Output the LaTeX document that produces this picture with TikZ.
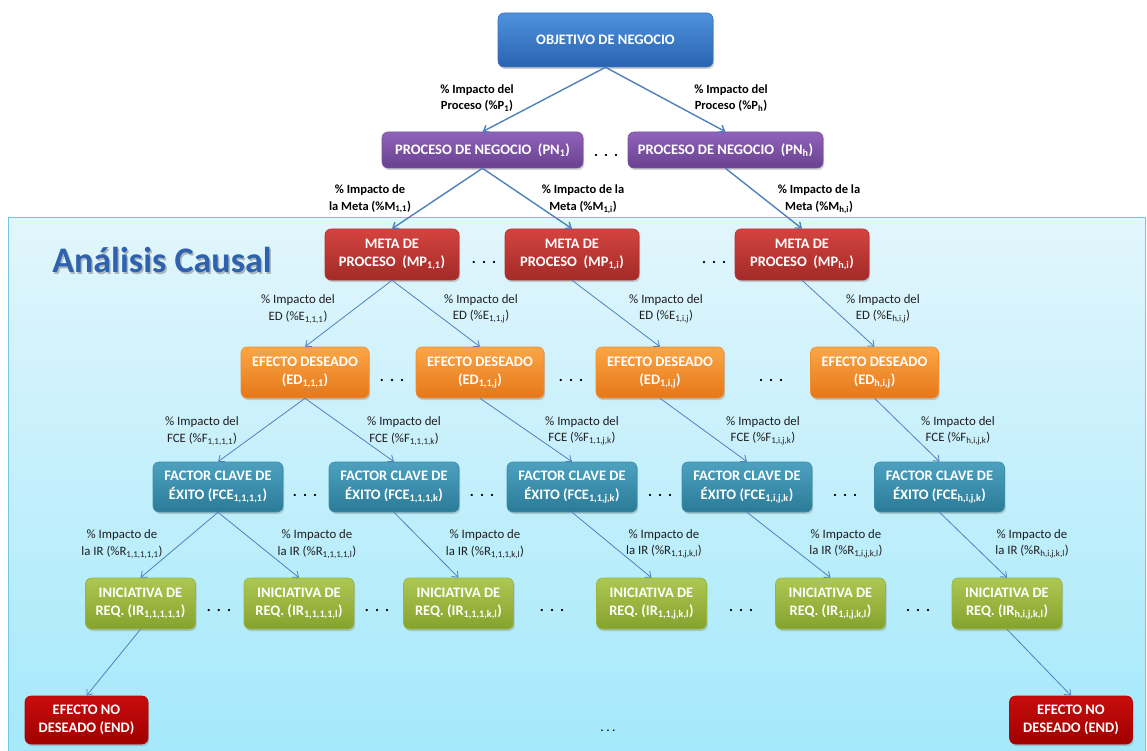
\documentclass[tikz,border=0pt]{standalone}
\usepackage{fontspec}
\setmainfont{Carlito}
\usetikzlibrary{shadows,arrows.meta}

\definecolor{objTop}{HTML}{4F92DC}
\definecolor{objBot}{HTML}{2A63B0}
\definecolor{objEdge}{HTML}{3A74BA}
\definecolor{pnTop}{HTML}{8F63BA}
\definecolor{pnBot}{HTML}{6A4190}
\definecolor{pnEdge}{HTML}{7A52A2}
\definecolor{mpTop}{HTML}{D4443F}
\definecolor{mpBot}{HTML}{A22A28}
\definecolor{mpEdge}{HTML}{B8332F}
\definecolor{edTop}{HTML}{FBA645}
\definecolor{edBot}{HTML}{E6771A}
\definecolor{edEdge}{HTML}{F08E2E}
\definecolor{fceTop}{HTML}{4DA1BF}
\definecolor{fceBot}{HTML}{2A7B98}
\definecolor{fceEdge}{HTML}{3A8EAC}
\definecolor{irTop}{HTML}{ADC852}
\definecolor{irBot}{HTML}{85A22C}
\definecolor{irEdge}{HTML}{98B53E}
\definecolor{endTop}{HTML}{C80C0C}
\definecolor{endBot}{HTML}{A00000}
\definecolor{endEdge}{HTML}{B00606}
\definecolor{panelTop}{HTML}{E2F6FC}
\definecolor{panelBot}{HTML}{A2E8FB}
\definecolor{panelEdge}{HTML}{72C6E8}
\definecolor{connBlue}{HTML}{4F81BD}
\definecolor{titleBlue}{HTML}{2F62AE}
\definecolor{lblText}{HTML}{1E1E1E}

\tikzset{
  box/.style={rounded corners=6pt, inner sep=0pt, align=center, text=white,
    font=\fontsize{14.5}{18.5}\selectfont\bfseries, line width=0.6pt,
    drop shadow={opacity=0.35, shadow xshift=1.2pt, shadow yshift=-2pt}},
  objbox/.style={box, top color=objTop, bottom color=objBot, draw=objEdge,
    minimum width=215pt, minimum height=54pt},
  pnbox/.style={box, top color=pnTop, bottom color=pnBot, draw=pnEdge,
    minimum height=36pt},
  mpbox/.style={box, top color=mpTop, bottom color=mpBot, draw=mpEdge,
    minimum width=134pt, minimum height=51pt},
  edbox/.style={box, top color=edTop, bottom color=edBot, draw=edEdge,
    minimum width=128pt, minimum height=51pt},
  fcebox/.style={box, top color=fceTop, bottom color=fceBot, draw=fceEdge,
    minimum width=130pt, minimum height=50pt},
  irbox/.style={box, top color=irTop, bottom color=irBot, draw=irEdge,
    minimum width=110pt, minimum height=51pt},
  endbox/.style={box, top color=endTop, bottom color=endBot, draw=endEdge,
    minimum width=123pt, minimum height=48pt},
  dots/.style={inner sep=0pt, text=black, font=\fontsize{15}{15}\selectfont\bfseries},
  conn/.style={draw=connBlue, line width=0.8pt, -{Straight Barb[length=5pt,width=8pt]}},
  bigconn/.style={conn, line width=1.4pt},
  lbl/.style={inner sep=0pt, align=center, text=lblText, font=\fontsize{12.8}{16.5}\selectfont},
  toplbl/.style={lbl, text=black, font=\fontsize{12.5}{16.5}\selectfont\bfseries},
}

\newcommand{\dotrow}{.\hspace{6pt}.\hspace{6pt}.}

\begin{document}
\begin{tikzpicture}[x=1pt,y=-1pt]
\clip (0,0) rectangle (1147,751);
\fill[white] (0,0) rectangle (1147,751);

% causal-analysis panel
\path[top color=panelTop, bottom color=panelBot, draw=panelEdge, line width=1pt]
  (8,218) rectangle (1145.5,770);
\node[inner sep=0pt, text=black!45, opacity=0.6, font=\fontsize{36}{36}\selectfont\bfseries]
  (titleshadow) at (163.5,262) {Análisis Causal};
\node[inner sep=0pt, text=titleBlue, font=\fontsize{36}{36}\selectfont\bfseries]
  (title) at (162,260) {Análisis Causal};

% business objective and processes
\node[objbox] (obj) at (605.5,40) {OBJETIVO DE NEGOCIO};
\node[pnbox, minimum width=201pt] (pn1) at (482.5,150) {PROCESO DE NEGOCIO\ \ (PN\textsubscript{1})};
\node[pnbox, minimum width=195pt] (pnh) at (725.5,150) {PROCESO DE NEGOCIO\ \ (PN\textsubscript{h})};
\node[dots] (dpn) at (606,155) {\dotrow};

% process goals
\node[mpbox] (mp11) at (392,254.5) {META DE\\PROCESO\ \ (MP\textsubscript{1,1})};
\node[mpbox] (mp1i) at (572,254.5) {META DE\\PROCESO\ \ (MP\textsubscript{1,i})};
\node[mpbox] (mphi) at (802,254.5) {META DE\\PROCESO\ \ (MP\textsubscript{h,i})};
\node[dots] (dmp1) at (484,262) {\dotrow};
\node[dots] (dmp2) at (714,262) {\dotrow};

% desired effects
\node[edbox] (ed1) at (305,372.5) {EFECTO DESEADO\\(ED\textsubscript{1,1,1})};
\node[edbox] (ed2) at (480,372.5) {EFECTO DESEADO\\(ED\textsubscript{1,1,j})};
\node[edbox] (ed3) at (660,372.5) {EFECTO DESEADO\\(ED\textsubscript{1,i,j})};
\node[edbox] (ed4) at (874.5,372.5) {EFECTO DESEADO\\(ED\textsubscript{h,i,j})};
\node[dots] (ded1) at (392,380) {\dotrow};
\node[dots] (ded2) at (571,380) {\dotrow};
\node[dots] (ded3) at (771,380) {\dotrow};

% key success factors
\node[fcebox] (fce1) at (218,487) {FACTOR CLAVE DE\\ÉXITO (FCE\textsubscript{1,1,1,1})};
\node[fcebox] (fce2) at (394,487) {FACTOR CLAVE DE\\ÉXITO (FCE\textsubscript{1,1,1,k})};
\node[fcebox] (fce3) at (572,487) {FACTOR CLAVE DE\\ÉXITO (FCE\textsubscript{1,1,j,k})};
\node[fcebox] (fce4) at (747,487) {FACTOR CLAVE DE\\ÉXITO (FCE\textsubscript{1,i,j,k})};
\node[fcebox] (fce5) at (939.5,487) {FACTOR CLAVE DE\\ÉXITO (FCE\textsubscript{h,i,j,k})};
\node[dots] (dfce1) at (305,495) {\dotrow};
\node[dots] (dfce2) at (482,495) {\dotrow};
\node[dots] (dfce3) at (660,495) {\dotrow};
\node[dots] (dfce4) at (845,495) {\dotrow};

% requirement initiatives
\node[irbox] (ir1) at (140.5,603.5) {INICIATIVA DE\\REQ. (IR\textsubscript{1,1,1,1,1})};
\node[irbox] (ir2) at (299,603.5) {INICIATIVA DE\\REQ. (IR\textsubscript{1,1,1,1,l})};
\node[irbox] (ir3) at (458.5,603.5) {INICIATIVA DE\\REQ. (IR\textsubscript{1,1,1,k,l})};
\node[irbox] (ir4) at (651.5,603.5) {INICIATIVA DE\\REQ. (IR\textsubscript{1,1,j,k,l})};
\node[irbox] (ir5) at (830.5,603.5) {INICIATIVA DE\\REQ. (IR\textsubscript{1,i,j,k,l})};
\node[irbox] (ir6) at (1007,603.5) {INICIATIVA DE\\REQ. (IR\textsubscript{h,i,j,k,l})};
\node[dots] (dir1) at (219,610) {\dotrow};
\node[dots] (dir2) at (377,610) {\dotrow};
\node[dots] (dir3) at (552,610) {\dotrow};
\node[dots] (dir4) at (741,610) {\dotrow};
\node[dots] (dir5) at (918,610) {\dotrow};

% undesired effects
\node[endbox] (end1) at (86.5,720) {EFECTO NO\\DESEADO (END)};
\node[endbox] (end2) at (1071,720) {EFECTO NO\\DESEADO (END)};
\node[dots, font=\fontsize{11}{11}\selectfont\bfseries] (dend) at (608,731) {.\hspace{3pt}.\hspace{3pt}.};

% connectors
\draw[bigconn] (obj.south) -- (pn1.north);
\draw[bigconn] (obj.south) -- (pnh.north);
\draw[bigconn] (pn1.south) -- (mp11.north);
\draw[bigconn] (pn1.south) -- (mp1i.north);
\draw[bigconn] (pnh.south) -- (mphi.north);
\draw[conn] (mp11.south) -- (ed1.north);
\draw[conn] (mp11.south) -- (ed2.north);
\draw[conn] (mp1i.south) -- (ed3.north);
\draw[conn] (mphi.south) -- (ed4.north);
\draw[conn] (ed1.south) -- (fce1.north);
\draw[conn] (ed1.south) -- (fce2.north);
\draw[conn] (ed2.south) -- (fce3.north);
\draw[conn] (ed3.south) -- (fce4.north);
\draw[conn] (ed4.south) -- (fce5.north);
\draw[conn] (fce1.south) -- (ir1.north);
\draw[conn] (fce1.south) -- (ir2.north);
\draw[conn] (fce2.south) -- (ir3.north);
\draw[conn] (fce3.south) -- (ir4.north);
\draw[conn] (fce4.south) -- (ir5.north);
\draw[conn] (fce5.south) -- (ir6.north);
\draw[conn] (ir1.south) -- (end1.north);
\draw[conn] (ir6.south) -- (end2.north);

% connector labels
\node[toplbl] (lp1) at (477,98) {\% Impacto del\\Proceso (\%P\textsubscript{1})};
\node[toplbl] (lph) at (731,98) {\% Impacto del\\Proceso (\%P\textsubscript{h})};
\node[toplbl] (lm1) at (370,199) {\% Impacto de\\la Meta (\%M\textsubscript{1,1})};
\node[toplbl] (lm2) at (583,199) {\% Impacto de la\\Meta (\%M\textsubscript{1,i})};
\node[toplbl] (lm3) at (819,199) {\% Impacto de la\\Meta (\%M\textsubscript{h,i})};

\node[lbl] (le1) at (298,309) {\% Impacto del\\ED (\%E\textsubscript{1,1,1})};
\node[lbl] (le2) at (481,309) {\% Impacto del\\ED (\%E\textsubscript{1,1,j})};
\node[lbl] (le3) at (666,309) {\% Impacto del\\ED (\%E\textsubscript{1,i,j})};
\node[lbl] (le4) at (883,309) {\% Impacto del\\ED (\%E\textsubscript{h,i,j})};

\node[lbl] (lf1) at (202,431) {\% Impacto del\\FCE (\%F\textsubscript{1,1,1,1})};
\node[lbl] (lf2) at (404,431) {\% Impacto del\\FCE (\%F\textsubscript{1,1,1,k})};
\node[lbl] (lf3) at (582,431) {\% Impacto del\\FCE (\%F\textsubscript{1,1,j,k})};
\node[lbl] (lf4) at (763,431) {\% Impacto del\\FCE (\%F\textsubscript{1,i,j,k})};
\node[lbl] (lf5) at (958,431) {\% Impacto del\\FCE (\%F\textsubscript{h,i,j,k})};

\node[lbl] (lr1) at (122,544) {\% Impacto de\\la IR (\%R\textsubscript{1,1,1,1,1})};
\node[lbl] (lr2) at (317,544) {\% Impacto de\\la IR (\%R\textsubscript{1,1,1,1,l})};
\node[lbl] (lr3) at (485,544) {\% Impacto de\\la IR (\%R\textsubscript{1,1,1,k,l})};
\node[lbl] (lr4) at (664,544) {\% Impacto de\\la IR (\%R\textsubscript{1,1,j,k,l})};
\node[lbl] (lr5) at (846,544) {\% Impacto de\\la IR (\%R\textsubscript{1,i,j,k,l})};
\node[lbl] (lr6) at (1032,544) {\% Impacto de\\la IR (\%R\textsubscript{h,i,j,k,l})};
\end{tikzpicture}
\end{document}
